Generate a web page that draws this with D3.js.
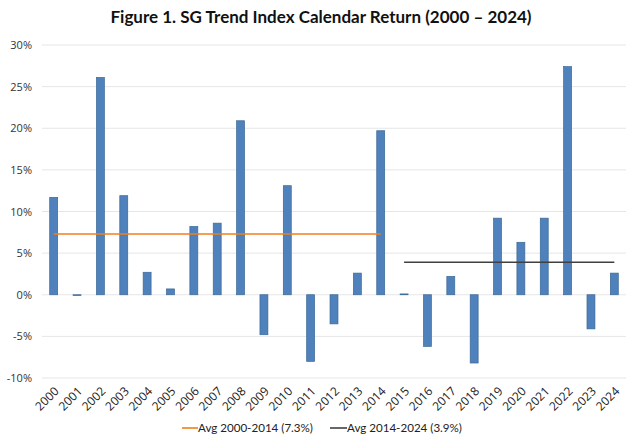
<!DOCTYPE html>
<html><head><meta charset="utf-8">
<script src="https://cdn.jsdelivr.net/npm/d3@7"></script>
<style>body{margin:0;background:#fff}svg{display:block}</style>
</head><body>
<svg id="c" width="632" height="436"></svg>
<script>
const years = ["2000","2001","2002","2003","2004","2005","2006","2007","2008","2009","2010","2011","2012","2013","2014","2015","2016","2017","2018","2019","2020","2021","2022","2023","2024"];
const returns = [11.7,-0.1,26.1,11.9,2.7,0.7,8.2,8.6,20.9,-4.8,13.1,-8.0,-3.5,2.6,19.7,0.1,-6.2,2.2,-8.2,9.2,6.3,9.2,27.4,-4.1,2.6];
const avg1 = {label:"Avg 2000-2014 (7.3%)", from:"2000", to:"2014", value:7.3};
const avg2 = {label:"Avg 2014-2024 (3.9%)", from:"2015", to:"2024", value:3.9};
const yTicks = [-10,-5,0,5,10,15,20,25,30];

const svg = d3.select("#c");
const L=42, R=626, T=45, B=378;
const x = d3.scaleBand().domain(years).range([L,R]).paddingInner(0.66).paddingOuter(0.33);
const y = d3.scaleLinear().domain([-10,30]).range([B,T]);
const font = "'Open Sans', sans-serif";

svg.append("text").attr("x",321).attr("y",23).attr("text-anchor","middle")
  .attr("font-family","Lato, 'Open Sans', sans-serif").attr("font-weight","bold").attr("font-size",17)
  .attr("fill","#111").text("Figure 1. SG Trend Index Calendar Return (2000 – 2024)");

// grid
svg.append("g").selectAll("line").data(yTicks).join("line")
  .attr("x1",L).attr("x2",R).attr("y1",d=>y(d)).attr("y2",d=>y(d))
  .attr("stroke","#e6e6e6").attr("stroke-width",1);

// y axis labels
const ya = svg.append("g").attr("transform",`translate(${L},0)`)
  .call(d3.axisLeft(y).tickValues(yTicks).tickFormat(d=>d+"%").tickSize(0).tickPadding(10));
ya.select(".domain").remove();
ya.selectAll("text").attr("font-family",font).attr("font-size",11).attr("fill","#333");

// bars
svg.append("g").selectAll("rect").data(years).join("rect")
  .attr("x",d=>x(d)).attr("width",x.bandwidth())
  .attr("y",(d,i)=>y(Math.max(0,returns[i])))
  .attr("height",(d,i)=>Math.abs(y(returns[i])-y(0)))
  .attr("fill","#4f81bd").attr("stroke","#3b6895").attr("stroke-width",0.7);

// avg lines
const cx = d=>x(d)+x.bandwidth()/2;
svg.append("line").attr("x1",cx(avg1.from)).attr("x2",cx(avg1.to)).attr("y1",y(avg1.value)).attr("y2",y(avg1.value))
  .attr("stroke","#f07f17").attr("stroke-width",1.6);
svg.append("line").attr("x1",cx(avg2.from)).attr("x2",cx(avg2.to)).attr("y1",y(avg2.value)).attr("y2",y(avg2.value))
  .attr("stroke","#404040").attr("stroke-width",1.6);

// x axis labels
const xa = svg.append("g").attr("transform",`translate(0,${B})`)
  .call(d3.axisBottom(x).tickSize(0).tickPadding(0));
xa.select(".domain").remove();
xa.selectAll("text").attr("font-family",font).attr("font-size",12).attr("fill","#222")
  .attr("text-anchor","end").attr("dy",0).attr("transform","translate(6,14) rotate(-45)");

// legend
const lg = svg.append("g").attr("font-family","Lato, sans-serif").attr("font-size",11.6).attr("fill","#222");
lg.append("line").attr("x1",182).attr("x2",198).attr("y1",428).attr("y2",428).attr("stroke","#f07f17").attr("stroke-width",1.6);
lg.append("text").attr("x",198).attr("y",432).text(avg1.label);
lg.append("line").attr("x1",330).attr("x2",347).attr("y1",428).attr("y2",428).attr("stroke","#404040").attr("stroke-width",1.6);
lg.append("text").attr("x",347).attr("y",432).text(avg2.label);
</script>
</body></html>
